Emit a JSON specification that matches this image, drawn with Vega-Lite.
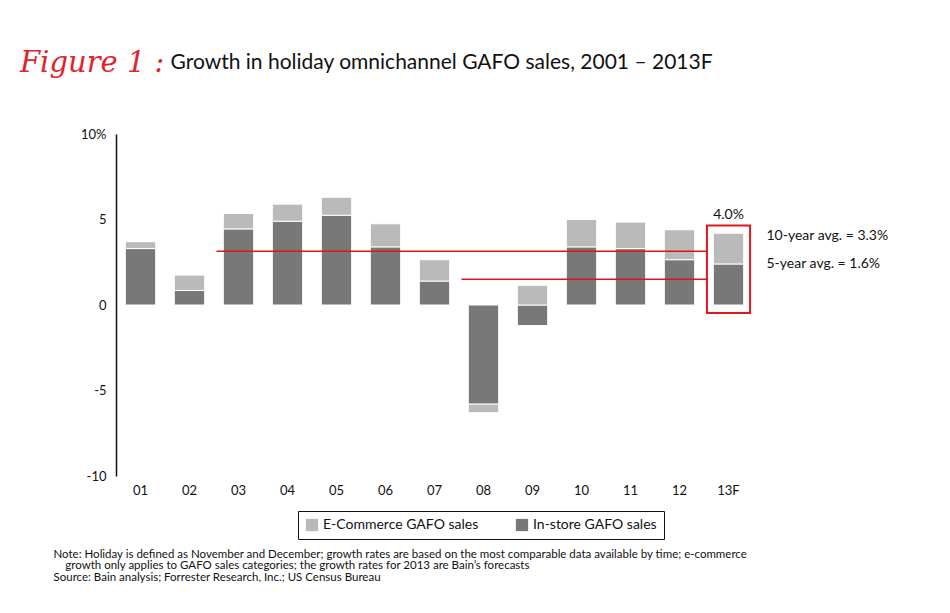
{
  "$schema": "https://vega.github.io/schema/vega-lite/v6.json",
  "width": 637,
  "height": 342,
  "autosize": {"type": "none"},
  "padding": {"left": 116, "top": 134, "right": 197, "bottom": 137},
  "background": "white",
  "title": {
    "text": "Figure 1 :",
    "subtitle": "\u200b\u00a0\u00a0\u00a0\u00a0\u00a0\u00a0\u00a0\u00a0\u00a0\u00a0\u00a0\u00a0\u00a0\u00a0\u00a0\u00a0\u00a0\u00a0\u00a0\u00a0\u00a0\u00a0\u00a0\u00a0\u00a0\u00a0\u00a0\u00a0Growth in holiday omnichannel GAFO sales, 2001 – 2013F",
    "anchor": "start",
    "frame": "group",
    "dx": -96,
    "offset": 50,
    "font": "DejaVu Serif",
    "fontStyle": "italic",
    "fontWeight": "normal",
    "fontSize": 29,
    "color": "#e3232b",
    "subtitleFont": "Lato",
    "subtitleFontSize": 21,
    "subtitleColor": "#111111",
    "subtitlePadding": -26
  },
  "config": {
    "view": {"stroke": null},
    "font": "Lato",
    "axis": {"labelFont": "Lato", "labelColor": "#111111", "labelFontSize": 13}
  },
  "layer": [
    {
      "data": {"values": [
        {"year": "01", "type": "In-store GAFO sales", "value": 3.3},
        {"year": "01", "type": "E-Commerce GAFO sales", "value": 0.4},
        {"year": "02", "type": "In-store GAFO sales", "value": 0.85},
        {"year": "02", "type": "E-Commerce GAFO sales", "value": 0.9},
        {"year": "03", "type": "In-store GAFO sales", "value": 4.45},
        {"year": "03", "type": "E-Commerce GAFO sales", "value": 0.9},
        {"year": "04", "type": "In-store GAFO sales", "value": 4.9},
        {"year": "04", "type": "E-Commerce GAFO sales", "value": 1.0},
        {"year": "05", "type": "In-store GAFO sales", "value": 5.25},
        {"year": "05", "type": "E-Commerce GAFO sales", "value": 1.05},
        {"year": "06", "type": "In-store GAFO sales", "value": 3.4},
        {"year": "06", "type": "E-Commerce GAFO sales", "value": 1.35},
        {"year": "07", "type": "In-store GAFO sales", "value": 1.4},
        {"year": "07", "type": "E-Commerce GAFO sales", "value": 1.25},
        {"year": "08", "type": "In-store GAFO sales", "value": -5.8},
        {"year": "08", "type": "E-Commerce GAFO sales", "value": -0.5},
        {"year": "09", "type": "In-store GAFO sales", "value": -1.2},
        {"year": "09", "type": "E-Commerce GAFO sales", "value": 1.15},
        {"year": "10", "type": "In-store GAFO sales", "value": 3.4},
        {"year": "10", "type": "E-Commerce GAFO sales", "value": 1.6},
        {"year": "11", "type": "In-store GAFO sales", "value": 3.3},
        {"year": "11", "type": "E-Commerce GAFO sales", "value": 1.55},
        {"year": "12", "type": "In-store GAFO sales", "value": 2.65},
        {"year": "12", "type": "E-Commerce GAFO sales", "value": 1.75},
        {"year": "13F", "type": "In-store GAFO sales", "value": 2.4},
        {"year": "13F", "type": "E-Commerce GAFO sales", "value": 1.8}
      ]},
      "mark": {"type": "bar", "stroke": "white", "strokeWidth": 1},
      "encoding": {
        "x": {
          "field": "year", "type": "ordinal",
          "scale": {"domain": ["01","02","03","04","05","06","07","08","09","10","11","12","13F"], "paddingInner": 0.38, "paddingOuter": 0.19},
          "axis": {
            "domain": false, "ticks": false, "labelAngle": 0, "labelPadding": 8,
            "title": [
              "Note: Holiday is defined as November and December; growth rates are based on the most comparable data available by time; e-commerce",
              "\u200b\u00a0\u00a0\u00a0\u00a0growth only applies to GAFO sales categories; the growth rates for 2013 are Bain’s forecasts",
              "Source: Bain analysis; Forrester Research, Inc.; US Census Bureau"
            ],
            "titleX": -63, "titleY": 72, "titleAlign": "left", "titleAnchor": null, "titleBaseline": "top",
            "titleFont": "Lato", "titleFontSize": 11.5, "titleFontWeight": "normal", "titleLineHeight": 11.8, "titleColor": "#111111"
          }
        },
        "y": {
          "field": "value", "type": "quantitative", "stack": "zero",
          "scale": {"domain": [-10, 10], "nice": false},
          "axis": {
            "title": null, "values": [-10, -5, 0, 5, 10], "grid": false, "ticks": false,
            "domainColor": "#111111", "domainWidth": 1.5, "labelPadding": 10,
            "labelExpr": "datum.value == 10 ? '10%' : '' + datum.value"
          }
        },
        "color": {
          "field": "type", "type": "nominal",
          "scale": {"domain": ["E-Commerce GAFO sales", "In-store GAFO sales"], "range": ["#bababa", "#787878"]},
          "legend": {
            "title": null, "orient": "none", "legendX": 182, "legendY": 377, "direction": "horizontal",
            "strokeColor": "#111111", "padding": 7, "symbolType": "square", "symbolSize": 150,
            "symbolStrokeWidth": 0, "labelFont": "Lato", "labelFontSize": 14, "labelColor": "#111111",
            "columnPadding": 36, "fillColor": "white"
          }
        },
        "order": {"field": "type", "sort": "descending"}
      }
    },
    {
      "mark": {"type": "rule", "color": "#111111", "strokeWidth": 1.5},
      "encoding": {"y": {"datum": 0}}
    },
    {
      "data": {"values": [
        {"label": "10-year avg. = 3.3%", "start": "03", "end": "13F", "avg": 3.15},
        {"label": "5-year avg. = 1.6%", "start": "08", "end": "13F", "avg": 1.5}
      ]},
      "layer": [
        {
          "mark": {"type": "rule", "color": "#d9161c", "strokeWidth": 1.5, "xOffset": -22, "x2Offset": -22},
          "encoding": {
            "x": {"field": "start", "type": "ordinal"},
            "x2": {"field": "end"},
            "y": {"field": "avg", "type": "quantitative"}
          }
        },
        {
          "mark": {"type": "text", "align": "left", "baseline": "middle", "dx": 38, "dy": -15, "fontSize": 14, "font": "Lato", "color": "#111111"},
          "encoding": {
            "x": {"field": "end", "type": "ordinal"},
            "y": {"field": "avg", "type": "quantitative"},
            "text": {"field": "label"}
          }
        }
      ]
    },
    {
      "data": {"values": [{"year": "13F", "top": 4.65, "bottom": -0.47, "label": "4.0%"}]},
      "layer": [
        {
          "mark": {"type": "bar", "fill": "transparent", "stroke": "#e0161b", "strokeWidth": 2, "width": {"band": 1.42}},
          "encoding": {
            "x": {"field": "year", "type": "ordinal"},
            "y": {"field": "top", "type": "quantitative"},
            "y2": {"field": "bottom"}
          }
        },
        {
          "mark": {"type": "text", "baseline": "bottom", "dy": -3, "fontSize": 14, "font": "Lato", "color": "#111111"},
          "encoding": {
            "x": {"field": "year", "type": "ordinal"},
            "y": {"field": "top", "type": "quantitative"},
            "text": {"field": "label"}
          }
        }
      ]
    }
  ]
}
